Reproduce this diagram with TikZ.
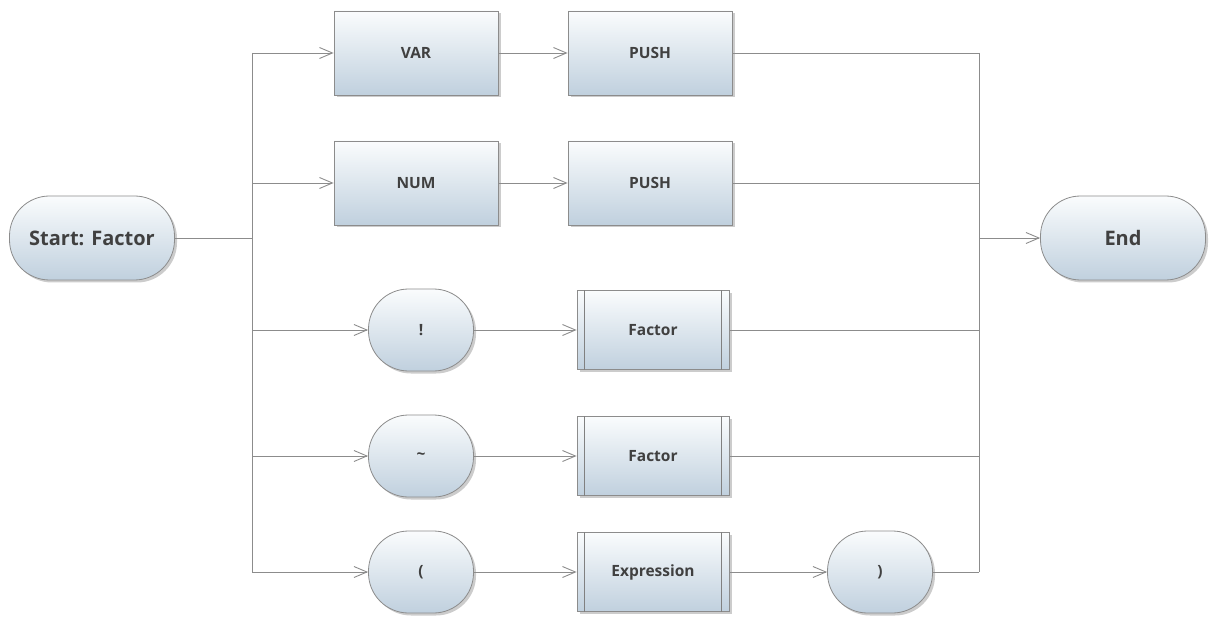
\documentclass[tikz,border=0pt]{standalone}
\usepackage{fontspec}
\usepackage{xcolor}
\usepackage{tikz}
\usetikzlibrary{arrows.meta,shadows}
\setmainfont{Open Sans}
\definecolor{linegray}{RGB}{140,140,140}
\definecolor{boxtop}{RGB}{250,252,253}
\definecolor{boxbottom}{RGB}{192,208,222}
\definecolor{textgray}{RGB}{64,64,64}
\tikzset{
  basebox/.style={draw=linegray, line width=0.8pt, top color=boxtop, bottom color=boxbottom,
    drop shadow={shadow xshift=2.5pt, shadow yshift=-2.5pt, opacity=0.4},
    text=textgray, font=\bfseries\fontsize{15.5}{18}\selectfont},
  pill/.style={basebox, rounded corners=40pt, minimum width=105pt, minimum height=82pt},
  bigpill/.style={pill, minimum width=165pt, minimum height=84pt, font=\bfseries\fontsize{20}{24}\selectfont},
  actbox/.style={basebox, minimum width=164pt, minimum height=84pt},
  subbox/.style={basebox, minimum width=152pt, minimum height=79pt},
  flow/.style={draw=linegray, line width=0.9pt},
  flowarrow/.style={flow, -{Straight Barb[length=13pt,width=11pt]}},
}
\begin{document}
\begin{tikzpicture}[x=1pt, y=-1pt]
            \useasboundingbox (0,0) rectangle (1217,617);
            %起点和终点
            \node[bigpill] (start) at (92,238) {Start: Factor};
            \node[bigpill] (end) at (1123,238) {End};
            %上面两行
            \node[actbox] (var) at (416,53) {VAR};
            \node[actbox] (push1) at (650,53) {PUSH};
            \node[actbox] (num) at (416,183) {NUM};
            \node[actbox] (push2) at (650,183) {PUSH};
            %下面三行
            \node[pill] (excl) at (421,330) {!};
            \node[subbox] (fac1) at (653,330) {Factor};
            \node[pill] (tilde) at (421,456) {\raisebox{-2pt}{\textasciitilde}};
            \node[subbox] (fac2) at (653,456) {Factor};
            \node[pill] (lparen) at (421,572) {(};
            \node[subbox] (expr) at (653,572) {Expression};
            \node[pill] (rparen) at (880,572) {)};
            %子过程框的竖线
            \foreach \n in {fac1,fac2,expr}{
              \draw[draw=gray, line width=0.9pt] ([xshift=8pt]\n.north west) -- ([xshift=8pt]\n.south west);
              \draw[draw=gray, line width=0.9pt] ([xshift=-8pt]\n.north east) -- ([xshift=-8pt]\n.south east);
            }
            %分支
            \coordinate (split) at (252,238);
            \coordinate (merge) at (979,238);
            \draw[flow] (start) -- (split);
            \draw[flow] (split |- var) -- (split |- lparen);
            \foreach \n in {var,num,excl,tilde,lparen}{\draw[flowarrow] (split |- \n) -- (\n);}
            %每行内部
            \draw[flowarrow] (var) -- (push1);
            \draw[flowarrow] (num) -- (push2);
            \draw[flowarrow] (excl) -- (fac1);
            \draw[flowarrow] (tilde) -- (fac2);
            \draw[flowarrow] (lparen) -- (expr);
            \draw[flowarrow] (expr) -- (rparen);
            %汇合
            \foreach \n in {push1,push2,fac1,fac2,rparen}{\draw[flow] (\n) -- (merge |- \n);}
            \draw[flow] (merge |- push1) -- (merge |- rparen);
            \draw[flowarrow] (merge) -- (end);
        \end{tikzpicture}
\end{document}
